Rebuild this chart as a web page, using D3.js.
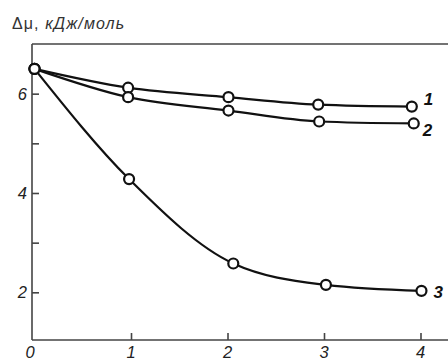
<!DOCTYPE html>
<html>
<head>
<meta charset="utf-8">
<script src="https://cdn.jsdelivr.net/npm/d3@7"></script>
<style>
  body { margin: 0; background: #fff; }
  text { font-family: "Liberation Sans", Arial, sans-serif; }
</style>
</head>
<body>
<div id="chart"></div>
<script>
// chart size
const width = 448;
const height = 361;

// data
const xTicks = [0, 1, 2, 3, 4];
const yTicks = [2, 3, 4, 5, 6];
const yLabels = [2, 4, 6];
const seriesNames = ["1", "2", "3"];
const x1 = [0, 0.97, 2.01, 2.94, 3.91];
const y1 = [6.5, 6.12, 5.93, 5.78, 5.74];
const x2 = [0, 0.97, 2.01, 2.95, 3.93];
const y2 = [6.5, 5.93, 5.66, 5.44, 5.40];
const x3 = [0, 0.98, 2.06, 3.02, 4.01];
const y3 = [6.5, 4.28, 2.58, 2.15, 2.03];

const series = [
  {name: seriesNames[0], pts: x1.map((x, i) => ({x: x, y: y1[i]}))},
  {name: seriesNames[1], pts: x2.map((x, i) => ({x: x, y: y2[i]}))},
  {name: seriesNames[2], pts: x3.map((x, i) => ({x: x, y: y3[i]}))}
];

const svg = d3.select("#chart")
  .append("svg")
  .attr("width", width)
  .attr("height", height);

// scales
const xScale = d3.scaleLinear().domain([-0.026, 4.285]).range([32, 448]);
const yScale = d3.scaleLinear().domain([1.04, 7]).range([340, 44]);

const axisColor = "#444";

// top frame line
svg.append("line")
  .attr("x1", 32).attr("x2", width)
  .attr("y1", yScale(7)).attr("y2", yScale(7))
  .attr("stroke", axisColor).attr("stroke-width", 1.6);

// y axis, ticks point inward
const yAxis = svg.append("g")
  .attr("transform", "translate(32,0)")
  .call(d3.axisRight(yScale).tickValues(yTicks).tickSize(7).tickFormat(""));
yAxis.select(".domain").attr("stroke", axisColor).attr("stroke-width", 1.6)
  .attr("d", `M0,${yScale(7)}V${yScale(1.04)}`);
yAxis.selectAll(".tick line").attr("stroke", axisColor).attr("stroke-width", 1.6);

svg.selectAll(".ylab")
  .data(yLabels)
  .enter()
  .append("text")
  .attr("class", "ylab")
  .attr("x", 27)
  .attr("y", d => yScale(d) + 6)
  .attr("text-anchor", "end")
  .attr("font-size", 16.5)
  .attr("font-style", "italic")
  .attr("fill", "#222")
  .text(d => d);

// x axis, ticks point inward
const xAxis = svg.append("g")
  .attr("transform", `translate(0,${yScale(1.04)})`)
  .call(d3.axisTop(xScale).tickValues(xTicks.slice(1)).tickSize(7).tickFormat(""));
xAxis.select(".domain").attr("stroke", axisColor).attr("stroke-width", 1.6)
  .attr("d", `M32,0H${width}`);
xAxis.selectAll(".tick line").attr("stroke", axisColor).attr("stroke-width", 1.6);

svg.selectAll(".xlab")
  .data(xTicks)
  .enter()
  .append("text")
  .attr("class", "xlab")
  .attr("x", d => d === 0 ? 30 : xScale(d))
  .attr("y", 358)
  .attr("text-anchor", "middle")
  .attr("font-size", 16.5)
  .attr("font-style", "italic")
  .attr("fill", "#222")
  .text(d => d);

// axis title
const title = svg.append("text")
  .attr("x", 12)
  .attr("y", 29)
  .attr("font-size", 16)
  .attr("letter-spacing", 1.1)
  .attr("fill", "#333");
title.append("tspan").text("Δμ, ");
title.append("tspan").attr("font-style", "italic").text("кДж/моль");

// curves
const line = d3.line()
  .x(d => xScale(d.x))
  .y(d => yScale(d.y))
  .curve(d3.curveMonotoneX);

svg.selectAll(".curve")
  .data(series)
  .enter()
  .append("path")
  .attr("class", "curve")
  .attr("d", d => line(d.pts))
  .attr("fill", "none")
  .attr("stroke", "#111")
  .attr("stroke-width", 2.2);

// markers
series.forEach(s => {
  svg.selectAll(null)
    .data(s.pts)
    .enter()
    .append("circle")
    .attr("cx", d => xScale(d.x))
    .attr("cy", d => yScale(d.y))
    .attr("r", 5)
    .attr("fill", "#fff")
    .attr("stroke", "#111")
    .attr("stroke-width", 2.2);
});

// curve numbers
const labelPos = [{dx: 12, dy: -2}, {dx: 9, dy: 13}, {dx: 12, dy: 7}];
series.forEach((s, i) => {
  const last = s.pts[s.pts.length - 1];
  svg.append("text")
    .attr("x", xScale(last.x) + labelPos[i].dx)
    .attr("y", yScale(last.y) + labelPos[i].dy)
    .attr("font-size", 17)
    .attr("font-weight", "bold")
    .attr("font-style", "italic")
    .attr("fill", "#111")
    .text(s.name);
});
</script>
</body>
</html>
